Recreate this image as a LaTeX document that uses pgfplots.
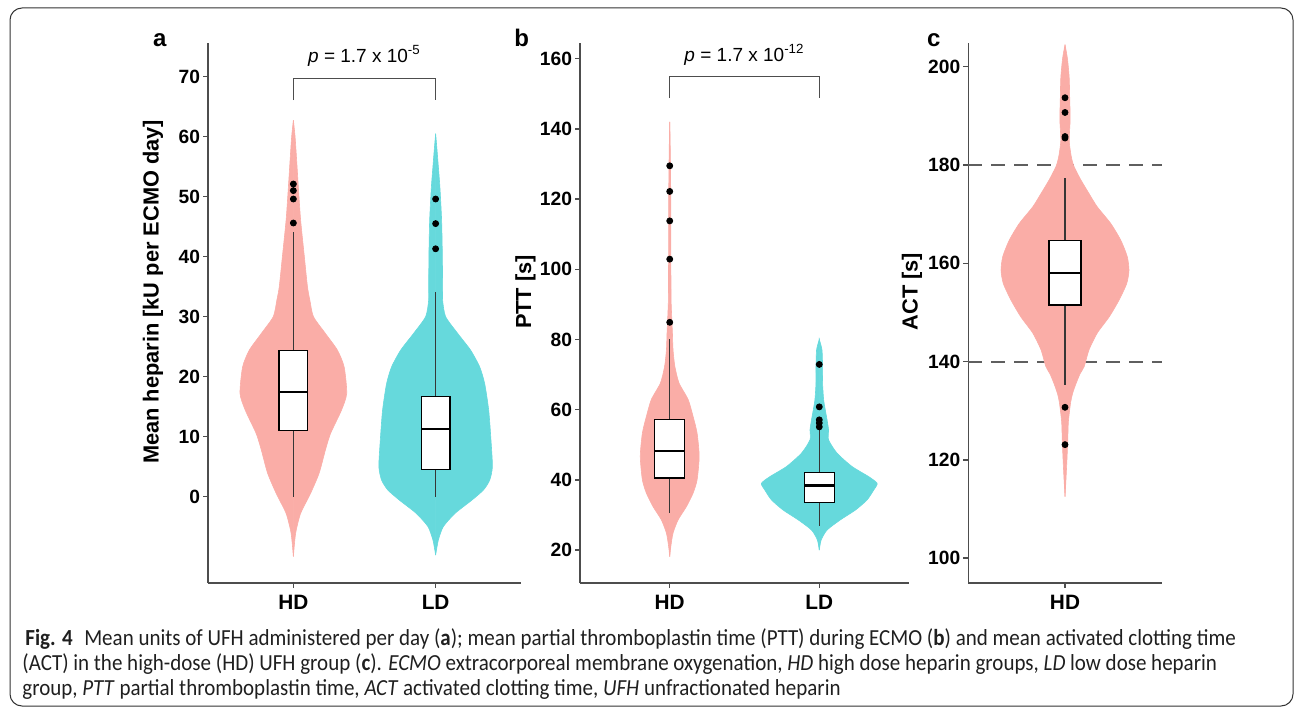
\documentclass[border=0pt]{standalone}
\usepackage{fontspec}
\setmainfont{Liberation Sans}
\newfontfamily\capfont{Carlito}
\usepackage{pgfplots}
\usepackage{pgfplotstable}
\pgfplotsset{compat=1.18}

\definecolor{hdfill}{RGB}{250,173,167}
\definecolor{ldfill}{RGB}{102,217,220}
\definecolor{axisgray}{RGB}{77,77,77}

% violin outlines: y value and half width (x units)
\pgfplotstableread{
y w
-10.0 0
-6.1 0.016
-2.8 0.051
0.5 0.120
3.9 0.181
7.75 0.225
10.5 0.261
14.4 0.338
17.2 0.375
21.6 0.357
24.4 0.310
27.2 0.225
30.0 0.141
32.75 0.116
35.0 0.099
40.5 0.075
46.1 0.051
51.6 0.035
56.1 0.023
60.0 0.012
62.75 0
}\vaHD
\pgfplotstableread{
y w
-9.75 0
-7.25 0.019
-5.0 0.054
-2.8 0.136
-0.6 0.254
1.1 0.336
2.75 0.380
5.0 0.399
9.4 0.389
14.4 0.373
18.8 0.345
21.6 0.310
24.4 0.246
27.2 0.155
30.0 0.070
32.75 0.049
35.0 0.049
40.5 0.047
46.1 0.042
51.6 0.030
55.0 0.019
58.0 0.009
60.5 0
}\vaLD
\pgfplotstableread{
y w
18.1 0
20.9 0.007
24.8 0.022
28.6 0.056
32.4 0.112
36.2 0.156
40.0 0.183
46.7 0.197
53.3 0.183
58.1 0.156
62.9 0.123
67.6 0.062
72.4 0.034
77.1 0.022
81.9 0.018
86.7 0.013
91.4 0.009
100 0.008
120 0.007
130 0.005
138 0.002
142 0
}\vbHD
\pgfplotstableread{
y w
20.0 0
22.9 0.013
25.7 0.052
28.6 0.141
31.4 0.242
34.3 0.320
37.1 0.364
39.0 0.387
40.9 0.331
43.8 0.219
47.6 0.119
51.4 0.062
54.3 0.062
57.1 0.052
60.0 0.040
62.9 0.029
67.6 0.022
72.4 0.022
77.1 0.018
80.0 0
}\vbLD
\pgfplotstableread{
y w
112.5 0
116.0 0.006
120.0 0.012
123.9 0.017
127.8 0.021
131.7 0.035
133.5 0.047
135.5 0.068
137.5 0.093
139.0 0.119
142.4 0.149
145.8 0.200
149.1 0.274
152.5 0.335
155.9 0.383
158.6 0.397
161.4 0.386
164.7 0.346
168.1 0.284
171.5 0.200
174.2 0.149
177.0 0.098
179.7 0.056
181.7 0.039
185.0 0.026
189.3 0.032
193.9 0.029
197.8 0.026
201.7 0.015
204.5 0
}\vcHD

\pgfplotsset{
  ggp/.style={
    scale only axis, clip=false,
    height=270pt,
    axis lines*=left,
    axis line style={axisgray, line width=0.8pt},
    tick style={axisgray, line width=0.7pt},
    tick align=outside, major tick length=2.5pt,
    /pgf/number format/assume math mode=true,
    yticklabel style={font=\bfseries\fontsize{9.6}{10}\selectfont, xshift=2pt},
    xticklabel style={font=\bfseries\fontsize{10.4}{11}\selectfont},
    ylabel style={anchor=center, font=\bfseries\fontsize{10.9}{12}\selectfont},
  },
  outl/.style={only marks, mark=*, mark size=1.5pt, black},
}

% one violin half: colour, table, x expr
\newcommand\violin[3]{%
  \addplot[fill=#1, draw=#1, line width=0.3pt, smooth, tension=0.4]
    table[x expr=#3, y=y] {#2} -- cycle;}
% box and whiskers: position, half width, lower whisker, lower quartile, median, upper quartile, upper whisker
\newcommand\boxwhisk[7]{%
  \addplot[axisgray!70!black, line width=0.6pt] coordinates {(#1,#3) (#1,#4)};
  \addplot[axisgray!70!black, line width=0.6pt] coordinates {(#1,#6) (#1,#7)};
  \addplot[draw=black, fill=white, line width=0.65pt]
    coordinates {(#1-#2,#4) (#1+#2,#4) (#1+#2,#6) (#1-#2,#6)} -- cycle;
  \addplot[black, line width=1.1pt] coordinates {(#1-#2,#5) (#1+#2,#5)};}

\begin{document}
\begin{tikzpicture}
\draw[black!80, line width=0.5pt, rounded corners=6pt] (5pt,1pt) rectangle (646.5pt,350pt);

% panel a
\begin{axis}[ggp, at={(104pt,62.5pt)}, anchor=south west, width=156.5pt,
  xmin=0.4, xmax=2.6, ymin=-14.4, ymax=75.6,
  xtick={1,2}, xticklabels={HD,LD}, ytick={0,10,...,70},
  ylabel={Mean heparin [kU per ECMO day]},
  ylabel style={at={(axis description cs:-0.176,0.539)}}]
\violin{hdfill}{\vaHD}{1-\thisrow{w}}
\violin{hdfill}{\vaHD}{1+\thisrow{w}}
\violin{ldfill}{\vaLD}{2-\thisrow{w}}
\violin{ldfill}{\vaLD}{2+\thisrow{w}}
\boxwhisk{1}{0.1}{0}{11.0}{17.5}{24.3}{44.1}
\boxwhisk{2}{0.1}{0}{4.5}{11.3}{16.7}{34.1}
\addplot[outl] coordinates {(1,52.1) (1,51.0) (1,49.6) (1,45.6) (2,49.6) (2,45.5) (2,41.3)};
\addplot[axisgray, line width=0.6pt] coordinates {(1,66.1) (1,69.75) (2,69.75) (2,66.1)};
\node[font=\fontsize{9.5}{11}\selectfont] at (axis cs:1.5,73.4) {\textit{p} = 1.7 x 10\textsuperscript{-5}};
\end{axis}
\node[anchor=base west, font=\bfseries\fontsize{12}{13}\selectfont, inner sep=0] at (76.3pt,330.5pt) {a};

% panel b
\begin{axis}[ggp, at={(290pt,62.5pt)}, anchor=south west, width=164.5pt,
  xmin=0.4, xmax=2.6, ymin=10.6, ymax=164.5,
  xtick={1,2}, xticklabels={HD,LD}, ytick={20,40,...,160},
  ylabel={PTT [s]},
  ylabel style={at={(axis description cs:-0.166,0.539)}}]
\violin{hdfill}{\vbHD}{1-\thisrow{w}}
\violin{hdfill}{\vbHD}{1+\thisrow{w}}
\violin{ldfill}{\vbLD}{2-\thisrow{w}}
\violin{ldfill}{\vbLD}{2+\thisrow{w}}
\boxwhisk{1}{0.1}{30.5}{40.5}{48.3}{57.1}{80.2}
\boxwhisk{2}{0.1}{26.9}{33.6}{38.4}{42.0}{54.5}
\addplot[outl] coordinates {(1,129.5) (1,122.2) (1,113.8) (1,102.9) (1,84.9)
  (2,72.9) (2,60.8) (2,57.1) (2,56.2) (2,55.1)};
\addplot[axisgray, line width=0.6pt] coordinates {(1,148.8) (1,154.9) (2,154.9) (2,148.8)};
\node[font=\fontsize{9.5}{11}\selectfont] at (axis cs:1.5,161.2) {\textit{p} = 1.7 x 10\textsuperscript{-12}};
\end{axis}
\node[anchor=base west, font=\bfseries\fontsize{12}{13}\selectfont, inner sep=0] at (257pt,330.5pt) {b};

% panel c
\begin{axis}[ggp, at={(484.15pt,62.65pt)}, anchor=south west, width=96.7pt,
  xmin=0.4, xmax=1.6, ymin=95.0, ymax=204.9,
  xtick={1}, xticklabels={HD}, ytick={100,120,...,200},
  ylabel={ACT [s]},
  ylabel style={at={(axis description cs:-0.291,0.539)}}]
\addplot[axisgray!90, line width=1pt, dash pattern=on 7pt off 4.5pt] coordinates {(0.4,180) (1.6,180)};
\addplot[axisgray!90, line width=1pt, dash pattern=on 7pt off 4.5pt] coordinates {(0.4,140) (1.6,140)};
\violin{hdfill}{\vcHD}{1-\thisrow{w}}
\violin{hdfill}{\vcHD}{1+\thisrow{w}}
\boxwhisk{1}{0.1}{135.3}{151.5}{158.0}{164.6}{177.4}
\addplot[outl] coordinates {(1,193.7) (1,190.7) (1,185.8) (1,185.5) (1,130.7) (1,123.1)};
\end{axis}
\node[anchor=base west, font=\bfseries\fontsize{12}{13}\selectfont, inner sep=0] at (463.3pt,330.5pt) {c};

% caption
\begin{scope}[every node/.style={anchor=base west, inner sep=0, font=\capfont\fontsize{11.5}{12.5}\selectfont, text=black!88}]
\node at (12.5pt,31.25pt) {\scalebox{0.913}[1]{\textbf{Fig. 4}\hspace{0.55em}Mean units of UFH administered per day (\textbf{a}); mean partial thromboplastin time (PTT) during ECMO (\textbf{b}) and mean activated clotting time}};
\node at (11pt,18.75pt) {\scalebox{0.913}[1]{(ACT) in the high-dose (HD) UFH group (\textbf{c}). \textit{ECMO} extracorporeal membrane oxygenation, \textit{HD} high dose heparin groups, \textit{LD} low dose heparin}};
\node at (11pt,6.25pt) {\scalebox{0.913}[1]{group, \textit{PTT} partial thromboplastin time, \textit{ACT} activated clotting time, \textit{UFH} unfractionated heparin}};
\end{scope}
\path (0,0) rectangle (647.5pt,354pt);
\end{tikzpicture}
\end{document}
